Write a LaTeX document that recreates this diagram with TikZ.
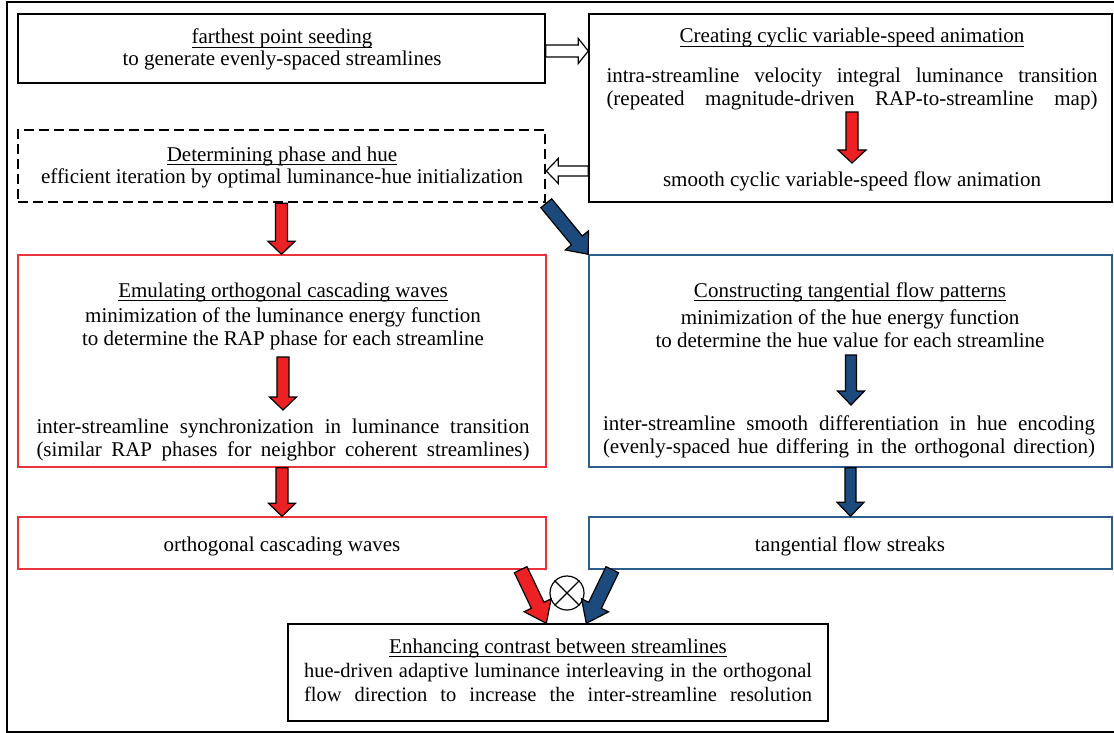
\documentclass[tikz,border=0pt]{standalone}
\usepackage{fontspec}
\setmainfont{Liberation Serif}
\usetikzlibrary{calc}
\definecolor{redfill}{RGB}{237,32,36}
\definecolor{bluefill}{RGB}{28,74,124}
\definecolor{redline}{RGB}{236,52,56}
\definecolor{blueline}{RGB}{46,92,140}
\newcommand\myul[1]{\setbox0\hbox{#1}\rlap{\rule[-3.5pt]{\wd0}{0.9pt}}\box0}
\newcommand\just[2]{\makebox[#1][s]{#2}}
% #1 tail, #2 tip, #3 fill, #4 shaft half width, #5 head half width, #6 head length
\newcommand\fatarrow[6]{%
  \coordinate (fah) at ($(#2)!#6!(#1)$);
  \draw[fill=#3, line width=1.2pt, line join=miter]
    ($(#1)!#4!90:(#2)$) -- ($(fah)!#4!90:(#2)$) -- ($(fah)!#5!90:(#2)$) -- (#2)
    -- ($(fah)!#5!-90:(#2)$) -- ($(fah)!#4!-90:(#2)$) -- ($(#1)!#4!-90:(#2)$) -- cycle;}
\tikzset{
  box/.style={draw, line width=1.4pt, inner sep=0pt},
  dbox/.style={draw, line width=2.5pt, dash pattern=on 10pt off 5pt, inner sep=0pt},
  rbox/.style={draw=redline, line width=1.4pt, inner sep=0pt},
  bbox/.style={draw=blueline, line width=1.4pt, inner sep=0pt},
  txt/.style={font=\fontsize{21}{24}\selectfont, inner sep=0pt, anchor=base},
  stxt/.style={font=\fontsize{20.5}{24}\selectfont, inner sep=0pt, anchor=base},
}
\begin{document}
\begin{tikzpicture}[x=1pt,y=-1pt]
\useasboundingbox (0,0) rectangle (1114,733);
% outer frame
\draw[line width=2pt] (7,2) rectangle (1130,732);

% boxes
\node[box, minimum width=527pt, minimum height=69pt] (A) at (281.5,48.5) {};
\node[box, minimum width=523pt, minimum height=188pt] (B) at (850.5,108) {};
\node[dbox, minimum width=527pt, minimum height=72pt] (C) at (281.5,166) {};
\node[rbox, minimum width=528pt, minimum height=212pt] (D) at (282,361) {};
\node[bbox, minimum width=523pt, minimum height=212pt] (E) at (850.5,361) {};
\node[rbox, minimum width=528pt, minimum height=52pt] (F) at (282,543) {};
\node[bbox, minimum width=523pt, minimum height=52pt] (G) at (850.5,543) {};
\node[box, minimum width=540pt, minimum height=97pt] (H) at (558,672.5) {};

% texts
\node[txt] (a1) at (282,44) {\myul{farthest point seeding}};
\node[txt] (a2) at (282,66) {to generate evenly-spaced streamlines};

\node[txt] (b1) at (852,43) {\myul{Creating cyclic variable-speed animation}};
\node[txt] (b2) at (852,83) {\just{491pt}{intra-streamline velocity integral luminance transition}};
\node[txt] (b3) at (852,106) {\just{491pt}{(repeated magnitude-driven RAP-to-streamline map)}};
\node[txt] (b4) at (852,186) {smooth cyclic variable-speed flow animation};

\node[txt] (c1) at (282,161) {\myul{Determining phase and hue}};
\node[txt] (c2) at (282,183) {efficient iteration by optimal luminance-hue initialization};

\node[txt] (d1) at (283,297) {\myul{Emulating orthogonal cascading waves}};
\node[txt] (d2) at (283,322) {minimization of the luminance energy function};
\node[txt] (d3) at (283,345) {to determine the RAP phase for each streamline};
\node[txt] (d4) at (283,433) {\just{493pt}{inter-streamline synchronization in luminance transition}};
\node[txt] (d5) at (283,456) {\just{493pt}{(similar RAP phases for neighbor coherent streamlines)}};

\node[txt] (e1) at (850,297) {\myul{Constructing tangential flow patterns}};
\node[txt] (e2) at (850,324) {minimization of the hue energy function};
\node[txt] (e3) at (850,347) {to determine the hue value for each streamline};
\node[txt] (e4) at (849,430) {\just{492pt}{inter-streamline smooth differentiation in hue encoding}};
\node[txt] (e5) at (849,453) {\just{492pt}{(evenly-spaced hue differing in the orthogonal direction)}};

\node[txt] (f1) at (282,551) {orthogonal cascading waves};
\node[txt] (g1) at (850,551) {tangential flow streaks};

\node[txt] (h1) at (558,653) {\myul{Enhancing contrast between streamlines}};
\node[stxt] (h2) at (558,677) {\just{508pt}{hue-driven adaptive luminance interleaving in the orthogonal}};
\node[stxt] (h3) at (558,701) {\just{508pt}{flow direction to increase the inter-streamline resolution}};

% otimes
\node[draw, circle, line width=1.2pt, minimum size=34pt, inner sep=0pt] (ot) at (567,593) {};
\draw[line width=1.2pt] (ot.north east) -- (ot.south west);
\draw[line width=1.2pt] (ot.north west) -- (ot.south east);

% arrow end points
\coordinate (ab1) at (A.east |- 0,51);
\coordinate (ab2) at (B.west |- 0,51);
\coordinate (bc1) at (B.west |- 0,171);
\coordinate (bc2) at (C.east |- 0,171);
\coordinate (cd2) at (C.south |- D.north);
\coordinate (df2) at (D.south |- F.north);
\coordinate (eg2) at (E.south |- G.north);
\coordinate (bi1) at (852,112);
\coordinate (bi2) at (852,163);
\coordinate (di1) at (283,357);
\coordinate (di2) at (283,410);
\coordinate (ei1) at (851,355);
\coordinate (ei2) at (851,405);
\coordinate (fr1) at ($(F.south east)+(-26,0)$);
\coordinate (fr2) at ($(H.north west)+(259,0)$);
\coordinate (gb1) at ($(G.south west)+(24,0)$);
\coordinate (gb2) at ($(H.north west)+(299,0)$);

% arrows
\fatarrow{ab1}{ab2}{white}{6pt}{12.5pt}{10pt}
\fatarrow{bc1}{bc2}{white}{5pt}{12.5pt}{12pt}
\fatarrow{bi1}{bi2}{redfill}{6pt}{14pt}{13pt}
\fatarrow{C.south}{cd2}{redfill}{6pt}{13.5pt}{13pt}
\fatarrow{C.south east}{E.north west}{bluefill}{7pt}{15pt}{18pt}
\fatarrow{di1}{di2}{redfill}{6pt}{13.5pt}{13pt}
\fatarrow{ei1}{ei2}{bluefill}{5.5pt}{13.5pt}{14pt}
\fatarrow{D.south}{df2}{redfill}{6pt}{13.5pt}{13pt}
\fatarrow{E.south}{eg2}{bluefill}{5.5pt}{13.5pt}{14pt}
\fatarrow{fr1}{fr2}{redfill}{7pt}{15pt}{20pt}
\fatarrow{gb1}{gb2}{bluefill}{7pt}{15pt}{20pt}
\end{tikzpicture}
\end{document}
